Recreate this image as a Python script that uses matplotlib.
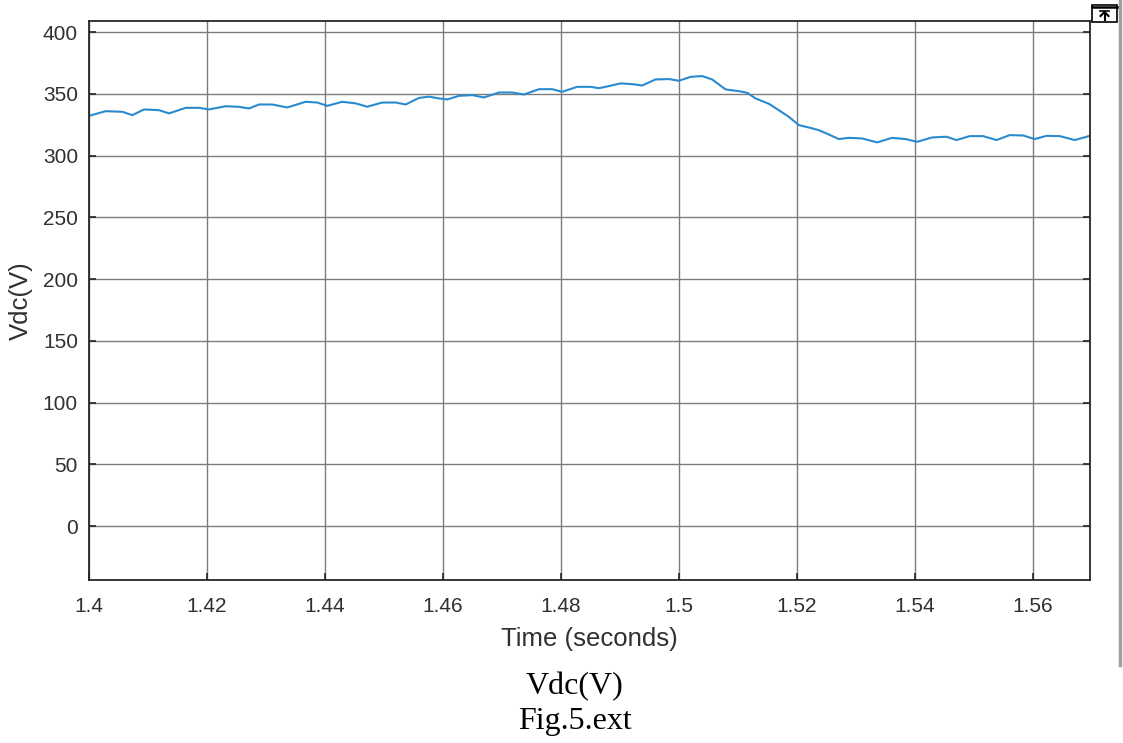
import matplotlib
matplotlib.use("Agg")
import matplotlib.pyplot as plt
from matplotlib.patches import Rectangle
from matplotlib.lines import Line2D
from matplotlib.ticker import FormatStrFormatter

# DC-link voltage trace, time in seconds, voltage in volts
time_s = [
    1.40000, 1.40283, 1.40564, 1.40734, 1.40932, 1.41186, 1.41356, 1.41639,
    1.41864, 1.42034, 1.42317, 1.42542, 1.42712, 1.42881, 1.43107, 1.43361,
    1.43673, 1.43869, 1.44039, 1.44293, 1.44520, 1.44717, 1.44971, 1.45198,
    1.45368, 1.45593, 1.45763, 1.45932, 1.46073, 1.46271, 1.46497, 1.46695,
    1.46949, 1.47175, 1.47373, 1.47627, 1.47853, 1.48022, 1.48276, 1.48503,
    1.48644, 1.48814, 1.49012, 1.49208, 1.49378, 1.49605, 1.49831, 1.50000,
    1.50198, 1.50395, 1.50564, 1.50792, 1.51017, 1.51158, 1.51300, 1.51525,
    1.51695, 1.51864, 1.52034, 1.52203, 1.52373, 1.52542, 1.52712, 1.52881,
    1.53107, 1.53361, 1.53615, 1.53842, 1.54039, 1.54293, 1.54537, 1.54707,
    1.54932, 1.55158, 1.55385, 1.55610, 1.55836, 1.56034, 1.56232, 1.56458,
    1.56712, 1.56966,
]
vdc = [
    332.2, 336.0, 335.5, 332.8, 337.4, 336.8, 334.2, 338.7,
    338.7, 337.4, 340.0, 339.5, 338.2, 341.4, 341.4, 339.0,
    343.6, 343.0, 340.3, 343.6, 342.3, 339.6, 343.0, 343.0,
    341.4, 346.7, 347.8, 346.3, 345.5, 348.4, 349.0, 347.1,
    351.1, 351.1, 349.5, 353.8, 353.8, 351.7, 355.7, 355.7,
    354.6, 356.3, 358.5, 357.9, 356.8, 361.7, 362.0, 360.6,
    363.8, 364.4, 361.7, 353.6, 352.2, 350.9, 346.3, 342.0,
    336.8, 331.4, 324.7, 322.8, 320.6, 317.1, 313.4, 314.4,
    313.9, 310.7, 314.4, 313.4, 311.2, 314.7, 315.3, 312.6,
    315.8, 315.8, 312.6, 316.6, 316.3, 313.4, 316.0, 315.8,
    312.6, 316.0,
]
x_ticks = [1.40, 1.42, 1.44, 1.46, 1.48, 1.50, 1.52, 1.54, 1.56]
y_ticks = [0, 50, 100, 150, 200, 250, 300, 350, 400]

W, H = 1123, 743
fig = plt.figure(figsize=(W / 100, H / 100), dpi=100)
fig.patch.set_facecolor("white")
ax = fig.add_axes([0.0793, 0.2194, 0.8913, 0.7523])

ax.plot(time_s, vdc, color="#2a8ad0", linewidth=1.5)

ax.set_xlim(1.40, 1.5697)
ax.set_ylim(-43.7, 409)
ax.set_xticks(x_ticks)
ax.set_yticks(y_ticks)
ax.xaxis.set_major_formatter(FormatStrFormatter("%g"))

ax.grid(True, color="#7c7c7c", linewidth=1.0)
ax.set_axisbelow(True)
for s in ax.spines.values():
    s.set_color("#262626")
    s.set_linewidth(1.3)
ax.tick_params(direction="in", length=5, width=1.2, colors="#262626",
               labelcolor="#303030", labelsize=15, right=True, top=False)
ax.tick_params(axis="x", pad=12.5)
ax.tick_params(axis="y", pad=8)
for lbl in ax.get_xticklabels() + ax.get_yticklabels():
    lbl.set_fontfamily("Liberation Sans")

ax.set_xlabel("Time (seconds)", fontsize=18.5, family="Liberation Sans",
              color="#303030", labelpad=8)
ax.set_ylabel("Vdc(V)", fontsize=18.5, family="Liberation Sans",
              color="#303030", labelpad=7)

# captions under the figure
fig.text(0.512, 1 - 687 / H, "Vdc(V)", ha="center", va="center",
         fontsize=23, family="Liberation Serif", color="black")
fig.text(0.512, 1 - 722 / H, "Fig.5.ext", ha="center", va="center",
         fontsize=23, family="Liberation Serif", color="black")

# window edge and undock button at the top right
fig.add_artist(Line2D([1120 / W, 1120 / W], [1.0, 1 - 665 / H],
                      transform=fig.transFigure, color="#a0a0a0", linewidth=2.5))
fig.add_artist(Rectangle((1092 / W, 1 - 22 / H), 25 / W, 17 / H,
                         transform=fig.transFigure, facecolor="white",
                         edgecolor="black", linewidth=1.2))
fig.add_artist(Line2D([1092 / W, 1117 / W], [1 - 7 / H, 1 - 7 / H],
                      transform=fig.transFigure, color="black", linewidth=1.8))
fig.add_artist(Line2D([1100 / W, 1109 / W], [1 - 10.5 / H, 1 - 10.5 / H],
                      transform=fig.transFigure, color="black", linewidth=1.2))
fig.add_artist(Line2D([1104.5 / W, 1104.5 / W], [1 - 20 / H, 1 - 13 / H],
                      transform=fig.transFigure, color="black", linewidth=1.5))
fig.add_artist(Line2D([1100.5 / W, 1104.5 / W, 1108.5 / W],
                      [1 - 16 / H, 1 - 12 / H, 1 - 16 / H],
                      transform=fig.transFigure, color="black", linewidth=1.5))

fig.savefig("out.png", dpi=100, facecolor="white")
